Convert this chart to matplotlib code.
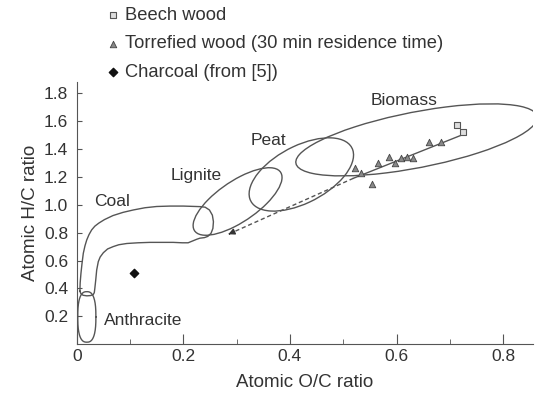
import numpy as np
import matplotlib
matplotlib.use("Agg")
import matplotlib.pyplot as plt
from matplotlib.patches import Ellipse

plt.rcParams['font.family'] = ['Liberation Sans', 'DejaVu Sans']

TEXT = '#333333'
LINE = '#555555'
FS = 12.5

# Measured samples (atomic O/C, atomic H/C)
beech_oc = [0.714, 0.7255]
beech_hc = [1.571, 1.523]
torr_oc = [0.522, 0.5335, 0.5547, 0.5648, 0.5866, 0.5973, 0.6086, 0.6193, 0.6305, 0.661, 0.683]
torr_hc = [1.261, 1.225, 1.148, 1.301, 1.339, 1.301, 1.337, 1.339, 1.332, 1.451, 1.451]
charcoal_oc = [0.108]
charcoal_hc = [0.513]

# Fuel regions drawn as ellipses (data coordinates)
ell_names = ['Lignite', 'Peat', 'Biomass']
ell_oc = [0.3018, 0.4214, 0.6375]
ell_hc = [1.0228, 1.2165, 1.4642]
ell_w = [0.4990, 0.5362, 0.6191]
ell_h = [0.1134, 0.1626, 0.2971]
ell_angle = [-104.58, -102.35, -129.02]

# Coal band outline
coal_oc = [0.006, 0.0065, 0.008, 0.010, 0.0124, 0.0155, 0.0188, 0.023, 0.028, 0.034, 0.0415, 0.052, 0.068, 0.087, 0.106, 0.128, 0.150, 0.175, 0.20, 0.2317,
           0.241, 0.249, 0.2545, 0.2565, 0.2555, 0.252, 0.246, 0.2395,
           0.231, 0.225, 0.218, 0.209, 0.198, 0.181, 0.16, 0.1375, 0.115, 0.094, 0.079, 0.0687, 0.058, 0.050, 0.044, 0.0405, 0.0375, 0.0357, 0.034, 0.033,
           0.031, 0.026, 0.019, 0.012, 0.008, 0.006]
coal_hc = [0.38, 0.44, 0.509, 0.58, 0.652, 0.705, 0.747, 0.785, 0.819, 0.846, 0.868, 0.893, 0.922, 0.945, 0.962, 0.978, 0.987, 0.99, 0.99, 0.986,
           0.982, 0.962, 0.925, 0.878, 0.83, 0.795, 0.773, 0.764,
           0.760, 0.752, 0.741, 0.727, 0.727, 0.73, 0.73, 0.73, 0.727, 0.722, 0.713, 0.70, 0.683, 0.656, 0.625, 0.592, 0.532, 0.46, 0.40, 0.37,
           0.356, 0.349, 0.347, 0.351, 0.362, 0.38]

# Anthracite region: rounded capsule
anth_oc, anth_hc = 0.019, 0.196
anth_half_oc, anth_half_hc = 0.017, 0.181

# Torrefaction trend and its extrapolation
trend_oc = [0.727, 0.519]
trend_hc = [1.506, 1.189]
extrap_oc = [0.519, 0.2845]
extrap_hc = [1.189, 0.788]

labels = ['Biomass', 'Peat', 'Lignite', 'Coal', 'Anthracite']
label_oc = [0.614, 0.3596, 0.2242, 0.0672, 0.124]
label_hc = [1.714, 1.428, 1.177, 0.99, 0.138]

x_ticks = [0, 0.2, 0.4, 0.6, 0.8]
x_ticklabels = ['0', '0.2', '0.4', '0.6', '0.8']
x_minor = [0.1, 0.3, 0.5, 0.7]
y_ticks = [0.2, 0.4, 0.6, 0.8, 1.0, 1.2, 1.4, 1.6, 1.8]
y_ticklabels = ['0.2', '0.4', '0.6', '0.8', '1.0', '1.2', '1.4', '1.6', '1.8']

fig = plt.figure(figsize=(5.36, 3.96), dpi=100)
ax = fig.add_axes([0.1431, 0.1306, 0.8513, 0.6624])
ax.set_xlim(0, 0.856)
ax.set_ylim(0, 1.879)

for cx, cy, w, h, a in zip(ell_oc, ell_hc, ell_w, ell_h, ell_angle):
    ax.add_patch(Ellipse((cx, cy), w, h, angle=a, fill=False, ec=LINE, lw=1))

ax.plot(coal_oc, coal_hc, color=LINE, lw=1)

t = np.linspace(0, 2 * np.pi, 200)
n = 2.6
ax.plot(anth_oc + anth_half_oc * np.sign(np.cos(t)) * np.abs(np.cos(t)) ** (2 / n),
        anth_hc + anth_half_hc * np.sign(np.sin(t)) * np.abs(np.sin(t)) ** (2 / n),
        color=LINE, lw=1)

ax.plot(trend_oc, trend_hc, color=LINE, lw=1)
ax.plot(extrap_oc, extrap_hc, color=LINE, lw=1, ls=(0, (3, 2)))
ax.annotate('', xy=(extrap_oc[1], extrap_hc[1]),
            xytext=(extrap_oc[1] + 0.01 * (extrap_oc[0] - extrap_oc[1]),
                    extrap_hc[1] + 0.01 * (extrap_hc[0] - extrap_hc[1])),
            arrowprops=dict(arrowstyle='-|>', color='#333333', lw=1, mutation_scale=9, shrinkA=0, shrinkB=0))

h1 = ax.scatter(beech_oc, beech_hc, marker='s', s=22, c='#dddddd', edgecolors='#555555',
                linewidths=0.8, zorder=3, label='Beech wood')
h2 = ax.scatter(torr_oc, torr_hc, marker='^', s=22, c='#888888', edgecolors='#444444',
                linewidths=0.6, zorder=3, label='Torrefied wood (30 min residence time)')
h3 = ax.scatter(charcoal_oc, charcoal_hc, marker='D', s=18, c='#111111', zorder=3,
                label='Charcoal (from [5])')

for s, x, y in zip(labels, label_oc, label_hc):
    ax.text(x, y, s, ha='center', va='baseline', fontsize=FS, color=TEXT)

for sp in ['top', 'right']:
    ax.spines[sp].set_visible(False)
for sp in ['left', 'bottom']:
    ax.spines[sp].set_color(LINE)
ax.set_xticks(x_ticks, x_ticklabels)
ax.set_xticks(x_minor, minor=True)
ax.set_yticks(y_ticks, y_ticklabels)
ax.tick_params(axis='x', which='major', direction='in', length=7, pad=3.5, color=LINE,
               labelcolor=TEXT, labelsize=FS)
ax.tick_params(axis='x', which='minor', direction='in', length=3.5, color=LINE)
ax.tick_params(axis='y', direction='in', length=3.5, pad=6, color=LINE, labelcolor=TEXT, labelsize=FS)
ax.set_xlabel('Atomic O/C ratio', fontsize=13.5, color=TEXT, labelpad=7)
ax.set_ylabel('Atomic H/C ratio', fontsize=13.5, color=TEXT, labelpad=4)

fig.legend(handles=[h1, h2, h3], loc='upper left', bbox_to_anchor=(0.1978, 0.982), frameon=False,
           fontsize=13.2, labelcolor=TEXT, borderpad=0, borderaxespad=0, handlelength=0.75,
           handletextpad=0.3, labelspacing=0.62)

fig.savefig('out.png', dpi=100)
